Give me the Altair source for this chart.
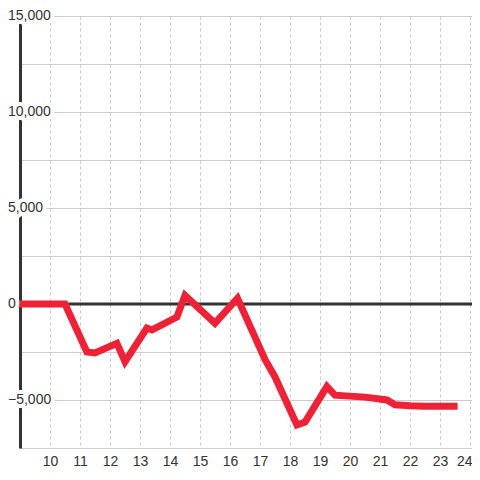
import altair as alt
import pandas as pd

# series values (x = day, y = value)
days = [9.0, 10.5, 11.23, 11.5, 12.23, 12.5, 13.23, 13.4, 14.23, 14.5, 15.5, 16.25,
        17.17, 17.5, 18.23, 18.5, 19.23, 19.5, 20.5, 21.23, 21.5, 22.0, 22.5, 23.0, 23.47]
values = [0, 0, -2500, -2550, -2050, -3000, -1250, -1350, -680, 450, -1000, 300,
          -2900, -3800, -6300, -6150, -4300, -4750, -4850, -5000, -5250, -5300, -5320, -5320, -5320]

x_ticks = list(range(10, 25))
y_grid = [-7500, -5000, -2500, 0, 2500, 5000, 7500, 10000, 12500, 15000]
y_labels = [-5000, 0, 5000, 10000, 15000]

df = pd.DataFrame({"day": days, "value": values})
lab = pd.DataFrame({"v": y_labels})
zero = pd.DataFrame({"v": [0]})

xs = alt.Scale(domain=[9, 24.0667], nice=False, zero=False)
ys = alt.Scale(domain=[-7500, 15000], nice=False)

base_x = alt.X("day:Q", scale=xs, title=None,
               axis=alt.Axis(values=x_ticks, grid=True, gridDash=[3, 3], gridColor="#c8c8c8",
                             gridWidth=1, domain=False, ticks=False, labelFontSize=14,
                             labelColor="#333333", labelPadding=6, labelFont="Liberation Sans",
                             labelFlush=3, labelFlushOffset=2))
base_y = alt.Y("value:Q", scale=ys, title=None,
               axis=alt.Axis(values=y_grid, grid=True, gridColor="#cccccc", gridWidth=1,
                             labels=False, ticks=False, domain=True, domainColor="#333333",
                             domainWidth=3))

zero_rule = alt.Chart(zero).mark_rule(color="#333333", strokeWidth=3).encode(
    y=alt.Y("v:Q", scale=ys))

line = alt.Chart(df).mark_line(color="#ee2237", strokeWidth=7, strokeCap="square").encode(
    x=base_x, y=base_y)

halo = alt.Chart(lab).mark_text(align="left", baseline="middle", fontSize=14,
                                font="Liberation Sans", stroke="white", strokeWidth=8,
                                fill="white", strokeJoin="round").encode(
    x=alt.value(-12), y=alt.Y("v:Q", scale=ys), text=alt.Text("v:Q", format=","))

text = alt.Chart(lab).mark_text(align="left", baseline="middle", fontSize=14,
                                font="Liberation Sans", color="#333333").encode(
    x=alt.value(-12), y=alt.Y("v:Q", scale=ys), text=alt.Text("v:Q", format=","))

chart = alt.layer(zero_rule, line, halo, text).properties(
    width=452, height=432,
    autosize=alt.AutoSizeParams(type="none"),
    padding={"left": 12, "top": 8, "right": 0, "bottom": 24},
).configure_view(stroke=None).configure(background="white")

chart.save("out.html", embed_options={"renderer": "svg", "actions": False})
